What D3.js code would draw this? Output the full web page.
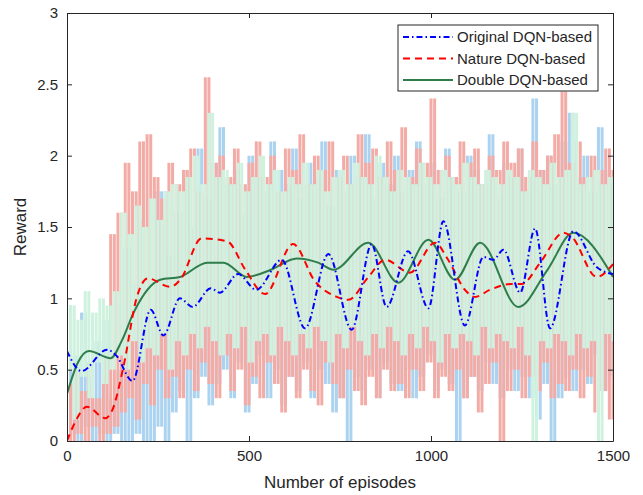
<!DOCTYPE html>
<html>
<head>
<meta charset="utf-8">
<script src="https://cdn.jsdelivr.net/npm/d3@7"></script>
<style>
  body { margin: 0; background: #fff; }
  svg { font-family: "Liberation Sans", Arial, sans-serif; }
</style>
</head>
<body>
<div id="chart"></div>
<script>
// raw rewards sampled every 10 episodes (0..1500)
const rawStep = 10
const rawOriginal = [
  0.95, 0.05, 0.6, 0.0, 0.9, 0.1, 0.45, 0.0, 0.7, 0.05, 0.85, 0.0, 0.3, 0.05, 0.5,
  0.0, 1.35, 0.0, 1.1, 0.05, 1.55, 0.0, 0.9, 0.0, 1.75, 0.1, 1.75, 0.0, 1.3, 0.2,
  1.6, 0.35, 1.9, 0.0, 1.5, 0.3, 2.05, 0.45, 1.7, 0.25, 1.95, 0.4, 2.2, 0.5, 1.8,
  0.3, 1.9, 0.55, 1.6, 0.2, 2.0, 0.4, 1.85, 0.6, 1.75, 0.3, 2.1, 0.5, 1.9, 0.25,
  1.8, 0.45, 2.05, 0.35, 1.7, 0.55, 1.95, 0.3, 1.85, 0.5, 2.1, 0.4, 1.65, 0.2, 1.9,
  0.3, 1.75, 0.0, 2.0, 0.45, 1.85, 0.35, 2.15, 0.5, 1.7, 0.3, 1.95, 0.55, 1.8, 0.4,
  2.0, 0.35, 1.75, 0.5, 1.9, 0.3, 2.1, 0.45, 1.8, 0.6, 1.95, 0.35, 1.7, 0.5, 2.05,
  0.4, 1.85, 0.0, 1.75, 0.3, 2.0, 0.45, 1.9, 0.35, 1.8, 0.55, 2.15, 0.4, 1.7, 0.3,
  1.95, 0.5, 1.85, 0.35, 2.05, 0.45, 1.75, 0.3, 2.4, 0.15, 1.9, 0.4, 2.0, 0.0, 1.8,
  0.3, 2.1, 0.45, 2.3, 0.35, 1.85, 0.5, 2.0, 0.4, 1.75, 0.6, 2.2, 0.35, 1.9, 0.45,
  1.8
]
const rawNature = [
  0.4, 0.0, 0.5, 0.05, 0.35, 0.0, 0.55, 0.1, 0.3, 0.0, 0.6, 0.05, 1.45, 0.1, 1.6,
  0.2, 1.95, 0.3, 1.75, 0.15, 2.1, 0.4, 2.15, 0.25, 1.85, 0.5, 1.7, 0.3, 1.95, 0.45,
  1.8, 0.3, 1.9, 0.5, 2.05, 0.35, 1.75, 0.55, 2.55, 0.4, 1.95, 0.3, 2.0, 0.6, 1.85,
  0.35, 2.05, 0.5, 1.8, 0.25, 1.95, 0.45, 2.1, 0.3, 1.85, 0.55, 2.0, 0.4, 1.75, 0.2,
  2.05, 0.45, 1.9, 0.3, 2.15, 0.5, 1.8, 0.35, 2.0, 0.25, 1.9, 0.55, 2.1, 0.4, 1.85,
  0.3, 2.0, 0.5, 1.8, 0.35, 2.15, 0.25, 1.95, 0.45, 2.05, 0.3, 1.85, 0.5, 2.1, 0.35,
  1.9, 0.4, 2.2, 0.3, 1.85, 0.5, 2.05, 0.35, 1.95, 0.55, 2.4, 0.3, 1.9, 0.45, 2.0,
  0.35, 1.85, 0.5, 2.1, 0.3, 1.95, 0.45, 2.05, 0.2, 1.8, 0.4, 2.0, 0.55, 1.9, 0.0,
  2.1, 0.35, 1.95, 0.5, 2.05, 0.3, 1.85, 0.45, 2.1, 0.35, 1.9, 0.55, 2.0, 0.3, 2.15,
  0.4, 2.45, 0.35, 1.95, 0.5, 2.1, 0.3, 1.85, 0.45, 2.0, 0.2, 1.9, 0.35, 2.05, 0.15,
  1.9
]
const rawDouble = [
  0.5, 0.95, 0.15, 0.85, 0.45, 1.05, 0.3, 0.9, 0.55, 1.0, 0.4, 0.95, 0.5, 1.05, 0.6,
  1.6, 0.5, 1.45, 0.7, 1.65, 0.55, 1.5, 0.65, 1.7, 0.6, 1.55, 0.75, 1.75, 0.5, 1.8,
  0.7, 1.75, 0.6, 1.85, 0.75, 2.0, 0.65, 1.8, 0.8, 2.3, 0.7, 1.85, 0.6, 1.9, 0.75,
  1.8, 0.65, 1.95, 0.8, 1.75, 0.55, 1.85, 0.7, 2.0, 0.75, 1.8, 0.6, 1.9, 0.8, 1.75,
  0.7, 1.85, 0.6, 1.8, 0.75, 1.95, 0.65, 1.8, 0.8, 1.9, 0.7, 1.75, 0.55, 1.85, 0.75,
  1.9, 0.65, 1.8, 0.8, 1.95, 0.7, 1.85, 0.6, 1.8, 0.75, 2.0, 0.65, 1.85, 0.8, 1.75,
  0.7, 1.9, 0.6, 1.85, 0.75, 1.8, 0.65, 1.95, 0.8, 1.85, 0.7, 1.8, 0.55, 1.9, 0.75,
  1.85, 0.65, 1.8, 0.75, 1.95, 0.7, 1.85, 0.6, 1.8, 0.8, 1.9, 0.65, 1.85, 0.75, 1.8,
  0.7, 1.9, 0.65, 1.85, 0.8, 1.75, 0.6, 1.9, 0.0, 1.85, 0.7, 1.8, 0.65, 1.95, 0.75,
  1.85, 0.7, 1.9, 0.6, 2.3, 0.75, 1.8, 0.65, 1.85, 0.7, 1.9, 0.0, 1.8, 0.75, 1.85,
  0.7
]

// smoothed curves, [episode, reward]
const smoothOriginal = [
  [0, 0.63], [40, 0.49], [110, 0.64], [135, 0.6], [180, 0.42], [230, 0.92], [265, 0.74],
  [310, 1.0], [345, 0.94], [395, 1.07], [420, 1.04], [470, 1.17], [520, 1.06], [590, 1.27],
  [654, 0.79], [718, 1.31], [782, 0.78], [837, 1.38], [878, 0.94], [937, 1.33], [993, 0.93],
  [1034, 1.54], [1093, 0.81], [1144, 1.29], [1171, 1.27], [1199, 1.34], [1245, 1.04],
  [1286, 1.49], [1327, 0.79], [1391, 1.47], [1455, 1.22], [1500, 1.17]
]
const smoothNature = [
  [0, 0.0], [20, 0.12], [55, 0.24], [105, 0.16], [125, 0.22], [155, 0.52], [192, 1.01],
  [222, 1.14], [284, 1.08], [311, 1.13], [370, 1.42], [440, 1.4], [490, 1.2], [544, 1.03],
  [621, 1.38], [681, 1.12], [741, 1.01], [773, 0.99], [828, 1.15], [874, 1.27], [942, 1.18],
  [1011, 1.39], [1047, 1.27], [1093, 1.06], [1121, 1.01], [1162, 1.06], [1220, 1.1],
  [1249, 1.1], [1300, 1.25], [1364, 1.46], [1387, 1.43], [1455, 1.15], [1500, 1.24]
]
const smoothDouble = [
  [0, 0.33], [30, 0.55], [60, 0.63], [120, 0.58], [150, 0.7], [183, 0.9], [256, 1.13],
  [311, 1.15], [385, 1.25], [430, 1.25], [494, 1.15], [560, 1.2], [631, 1.28], [690, 1.25],
  [732, 1.2], [828, 1.39], [910, 1.11], [993, 1.41], [1066, 1.13], [1135, 1.39],
  [1240, 0.94], [1320, 1.2], [1391, 1.46], [1500, 1.15]
]

const seriesNames = ["Original DQN-based", "Nature DQN-based", "Double DQN-based"]
const xTicks = [0, 500, 1000, 1500]
const yTicks = [0, 0.5, 1, 1.5, 2, 2.5, 3]

var margin = { top: 13, right: 30, bottom: 54, left: 67 }
    , width = 546
    , height = 428

const svg = d3.select("#chart").append("svg")
    .attr("width", 643)
    .attr("height", 495)
    .append("g")
    .attr("transform", "translate(" + margin.left + "," + margin.top + ")")

const xScale = d3.scaleLinear().domain([0, 1500]).range([0, width])
const yScale = d3.scaleLinear().domain([0, 3]).range([height, 0])

svg.append("clipPath").attr("id", "clip")
    .append("rect").attr("width", width).attr("height", height)

const plot = svg.append("g").attr("clip-path", "url(#clip)")

// each step of the raw trace drawn as a vertical stroke
function drawRaw(values, color) {
    const segs = values.slice(1).map((v, i) => ({ ep: (i + 1) * rawStep, from: values[i], to: v }))
    plot.append("g").selectAll("line")
        .data(segs)
        .enter()
        .append("line")
        .attr("x1", d => xScale(d.ep))
        .attr("x2", d => xScale(d.ep))
        .attr("y1", d => yScale(d.from))
        .attr("y2", d => yScale(d.to))
        .attr("stroke", color)
        .attr("stroke-width", 3)
}

drawRaw(rawOriginal, "#abd3f0")
drawRaw(rawNature, "#f3aba6")
drawRaw(rawDouble, "#cff2de")

const smooth = d3.line()
    .curve(d3.curveMonotoneX)
    .x(d => xScale(d[0]))
    .y(d => yScale(d[1]))

const styles = [
    { color: "#0000ff", dash: "6,3,1.5,3" },
    { color: "#ff0000", dash: "7,5" },
    { color: "#2e7d4a", dash: null }
]

plot.append("path").datum(smoothDouble)
    .attr("fill", "none").attr("stroke", styles[2].color).attr("stroke-width", 2)
    .attr("d", smooth)
plot.append("path").datum(smoothNature)
    .attr("fill", "none").attr("stroke", styles[1].color).attr("stroke-width", 2)
    .attr("stroke-dasharray", styles[1].dash)
    .attr("d", smooth)
plot.append("path").datum(smoothOriginal)
    .attr("fill", "none").attr("stroke", styles[0].color).attr("stroke-width", 2)
    .attr("stroke-dasharray", styles[0].dash)
    .attr("d", smooth)

// axes, MATLAB style box with inward ticks
const axisColor = "#262626"
const tickLen = 5

const xaxis = d3.axisBottom(xScale).tickValues(xTicks).tickSizeInner(-tickLen).tickSizeOuter(0).tickPadding(9)
    .tickFormat(d3.format("d"))
const yaxis = d3.axisLeft(yScale).tickValues(yTicks).tickSizeInner(-tickLen).tickSizeOuter(0).tickPadding(9)
    .tickFormat(d3.format("~g"))

svg.append("g")
    .attr("class", "axis")
    .attr("transform", "translate(0," + height + ")")
    .call(xaxis)
svg.append("g")
    .attr("class", "axis")
    .call(yaxis)
svg.append("g")
    .attr("class", "axis")
    .call(d3.axisTop(xScale).tickValues(xTicks).tickSizeInner(-tickLen).tickSizeOuter(0).tickFormat(""))
svg.append("g")
    .attr("class", "axis")
    .attr("transform", "translate(" + width + ",0)")
    .call(d3.axisRight(yScale).tickValues(yTicks).tickSizeInner(-tickLen).tickSizeOuter(0).tickFormat(""))

svg.selectAll(".axis path").attr("stroke", axisColor).attr("stroke-width", 1)
svg.selectAll(".axis line").attr("stroke", axisColor).attr("stroke-width", 1)
svg.selectAll(".axis text").attr("fill", axisColor).style("font-size", "15px")
    .style("font-family", "'Liberation Sans', Arial, sans-serif")

svg.append("text")
    .attr("text-anchor", "middle")
    .attr("x", width / 2)
    .attr("y", height + 47)
    .attr("fill", axisColor)
    .style("font-size", "17px")
    .text("Number of episodes")

svg.append("text")
    .attr("text-anchor", "middle")
    .attr("transform", "translate(" + (-41) + "," + (height / 2) + ")rotate(-90)")
    .attr("fill", axisColor)
    .style("font-size", "17px")
    .text("Reward")

// legend
const legend = svg.append("g").attr("transform", "translate(" + (398 - margin.left) + "," + (25 - margin.top) + ")")
legend.append("rect")
    .attr("width", 200).attr("height", 66)
    .attr("fill", "#fff").attr("stroke", axisColor).attr("stroke-width", 1)

seriesNames.forEach((name, i) => {
    const y = 12 + i * 21.5
    legend.append("line")
        .attr("x1", 5).attr("x2", 55).attr("y1", y).attr("y2", y)
        .attr("stroke", styles[i].color).attr("stroke-width", 2)
        .attr("stroke-dasharray", styles[i].dash)
    legend.append("text")
        .attr("x", 59).attr("y", y).attr("dy", "0.35em")
        .attr("fill", axisColor)
        .style("font-size", "15px")
        .text(name)
})
</script>
</body>
</html>
